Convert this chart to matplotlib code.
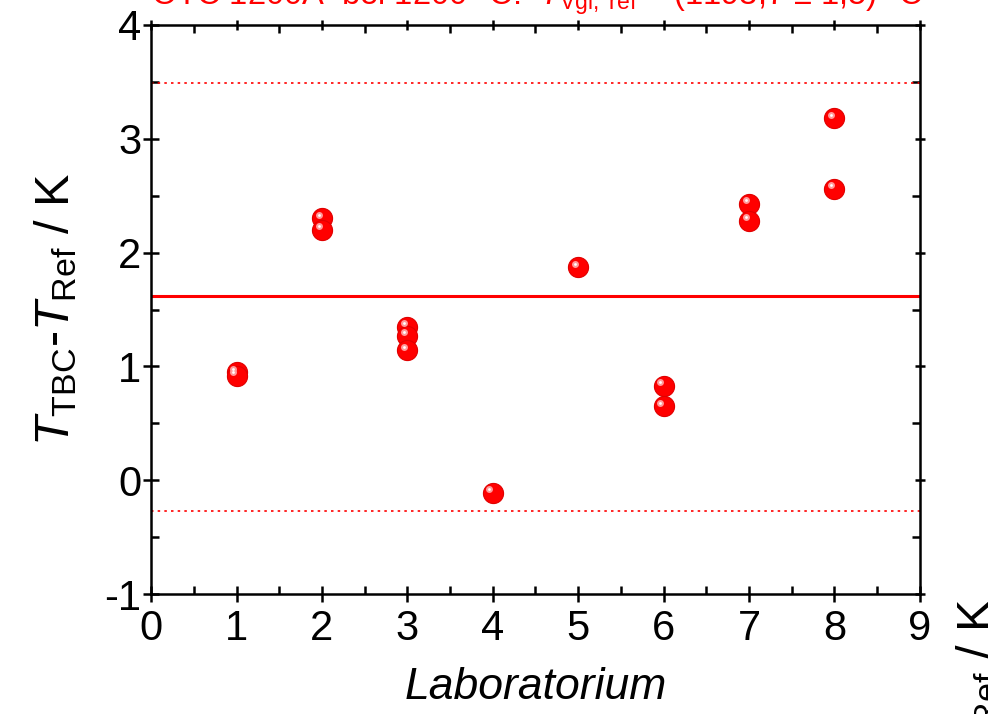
import matplotlib
matplotlib.use("Agg")
import matplotlib.pyplot as plt
from matplotlib.ticker import MultipleLocator
from matplotlib.transforms import offset_copy

plt.rcParams['font.family'] = ['Liberation Sans', 'DejaVu Sans']
plt.rcParams['mathtext.fontset'] = 'custom'
plt.rcParams['mathtext.rm'] = 'Liberation Sans'
plt.rcParams['mathtext.it'] = 'Liberation Sans:italic'
plt.rcParams['axes.unicode_minus'] = False

# laboratory number and deviation T_TBC - T_Ref in K
labs = [1, 1, 2, 2, 3, 3, 3, 4, 5, 6, 6, 7, 7, 8, 8]
deviation = [0.95, 0.92, 2.30, 2.20, 1.35, 1.27, 1.14, -0.11, 1.87,
             0.83, 0.65, 2.43, 2.28, 3.18, 2.56]
mean_dev = 1.62
upper_limit = 3.49
lower_limit = -0.27

red = '#ff0000'

fig = plt.figure(figsize=(9.88, 7.14), dpi=100)
ax = fig.add_axes([0.153, 0.168, 0.778, 0.797])

ax.axhline(mean_dev, color=red, lw=2.2, zorder=2)
ax.axhline(upper_limit, color=red, lw=1.2, ls=(0, (1.5, 2.5)), zorder=2)
ax.axhline(lower_limit, color=red, lw=1.2, ls=(0, (1.5, 2.5)), zorder=2)

# red "spheres": base marker plus a small highlight shifted up-left
ax.plot(labs, deviation, 'o', ms=14.5, color=red, mec='#e00000', mew=0.8, zorder=3)
hl = offset_copy(ax.transData, fig=fig, x=-2.5, y=2.5, units='points')
ax.plot(labs, deviation, 'o', ms=5, color='#ff9a9a', mew=0, transform=hl, zorder=4)
ax.plot(labs, deviation, 'o', ms=2, color='white', mew=0, transform=hl, zorder=5)

ax.set_xlim(0, 9)
ax.set_ylim(-1, 4)
ax.xaxis.set_major_locator(MultipleLocator(1))
ax.xaxis.set_minor_locator(MultipleLocator(0.5))
ax.yaxis.set_major_locator(MultipleLocator(1))
ax.yaxis.set_minor_locator(MultipleLocator(0.5))

for s in ax.spines.values():
    s.set_linewidth(1.8)
ax.tick_params(which='major', direction='inout', length=12, width=1.8,
               labelsize=30, top=True, right=True, pad=1)
ax.tick_params(axis='x', which='major', pad=5)
ax.tick_params(which='minor', direction='in', length=6, width=1.8,
               top=True, right=True)
for t in ax.xaxis.get_major_ticks():
    t.tick2line.set_markersize(7)
for t in ax.yaxis.get_major_ticks():
    t.tick2line.set_markersize(7)

ax.set_xlabel('Laboratorium', fontsize=32, style='italic', labelpad=13)
ax.set_ylabel(r'$T_{\rm TBC}$-$T_{\rm Ref}$ / K', fontsize=35, labelpad=18)

fig.text(0.153, 0.994, r'OTC 1200A  bei 1200 °C:  $T_{\rm Vgl,\ ref}$ = (1193,7 ± 1,5) °C',
         color=red, fontsize=23.5, ha='left', va='baseline')
fig.text(0.99, 0.163, r'$T_{\rm TBC}$-$T_{\rm Ref}$ / K', fontsize=35,
         rotation=90, ha='center', va='top')

fig.savefig('out.png', dpi=100)
